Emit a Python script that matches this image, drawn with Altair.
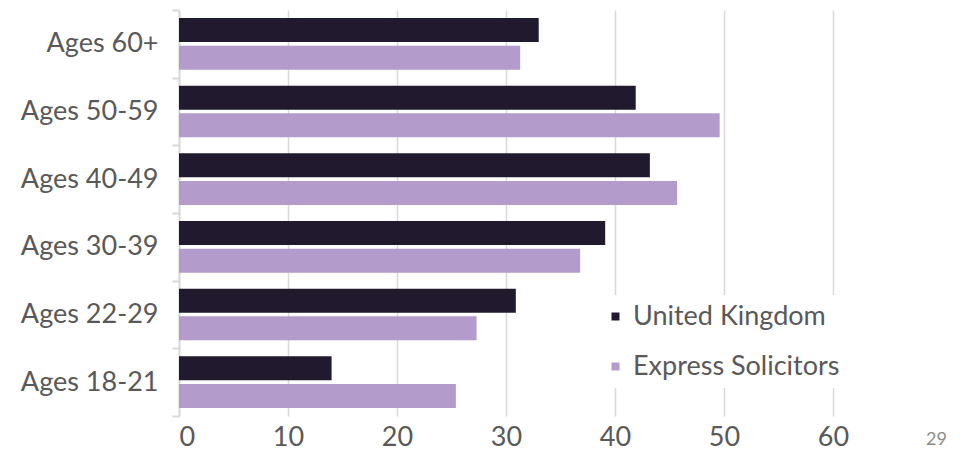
import altair as alt
import pandas as pd

categories = ["Ages 60+", "Ages 50-59", "Ages 40-49", "Ages 30-39", "Ages 22-29", "Ages 18-21"]
series = ["United Kingdom", "Express Solicitors"]
uk = [33.0, 41.9, 43.2, 39.1, 30.9, 14.0]
express = [31.3, 49.6, 45.7, 36.8, 27.3, 25.4]
x_ticks = [0, 10, 20, 30, 40, 50, 60]
colors = ["#211a2e", "#b39bcb"]
page_number = ["29"]

rows = []
for c, a, b in zip(categories, uk, express):
    rows.append({"cat": c, "series": series[0], "value": a})
    rows.append({"cat": c, "series": series[1], "value": b})
df = pd.DataFrame(rows)

FONT = "Lato"
GRAY = "#595959"
GRID = "#d9d9d9"

bars = alt.Chart(df).mark_bar().encode(
    y=alt.Y("cat:N", sort=categories, title=None,
            scale=alt.Scale(paddingInner=0, paddingOuter=0),
            axis=alt.Axis(tickBand="extent", grid=False, domainColor=GRID, domainWidth=2,
                          tickColor=GRID, tickWidth=2, tickSize=7, labelPadding=14,
                          labelFontSize=27, labelColor=GRAY, labelFont=FONT)),
    yOffset=alt.YOffset("series:N", sort=series,
                        scale=alt.Scale(paddingInner=0.13, paddingOuter=0.29)),
    x=alt.X("value:Q", title=None, scale=alt.Scale(domain=[0, 70], nice=False),
            axis=alt.Axis(values=x_ticks, domain=False, ticks=False, grid=True,
                          gridColor=GRID, gridWidth=1.5, labelPadding=8,
                          labelFontSize=27, labelColor=GRAY, labelFont=FONT)),
    color=alt.Color("series:N", sort=series,
                    scale=alt.Scale(domain=series, range=colors),
                    legend=alt.Legend(title=None, orient="none", legendX=415, legendY=285,
                                      fillColor="white", padding=8, symbolType="square",
                                      symbolSize=64, labelFontSize=27, labelColor=GRAY,
                                      labelFont=FONT, rowPadding=22, labelOffset=4,
                                      labelLimit=0)),
)

page = alt.Chart(pd.DataFrame({"p": page_number})).mark_text(
    font=FONT, fontSize=18, color="#8c8c8c", align="left", baseline="alphabetic"
).encode(x=alt.value(747), y=alt.value(435), text="p:N")

chart = alt.layer(bars, page).properties(
    width=763, height=406,
    autosize=alt.AutoSizeParams(type="none"),
    padding={"left": 171, "top": 2, "right": 12, "bottom": 40},
).configure_view(stroke=None)

chart.save("out.html", embed_options={"renderer": "svg", "actions": False})
